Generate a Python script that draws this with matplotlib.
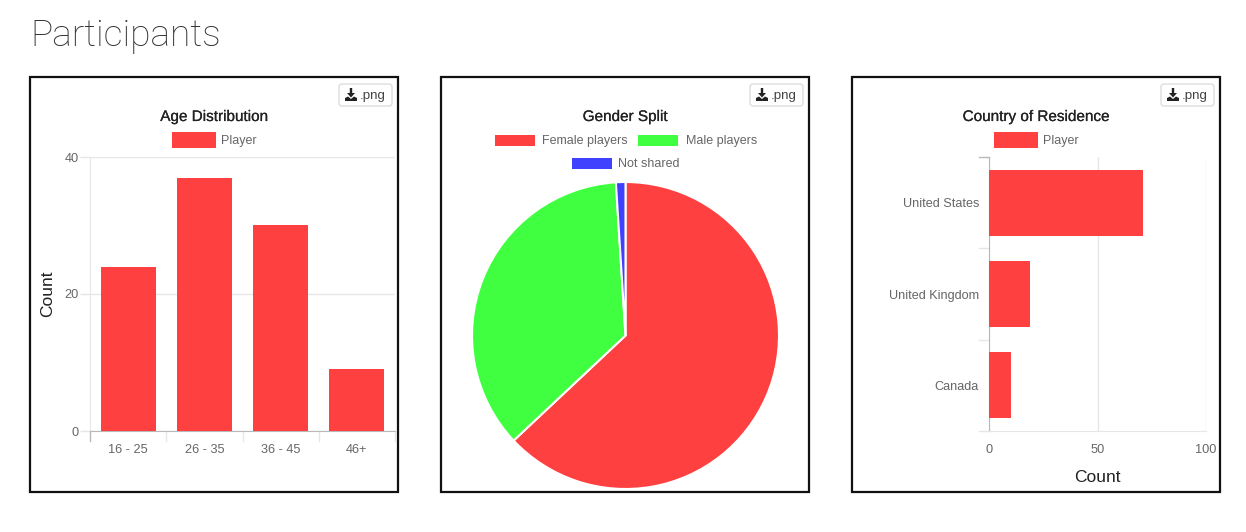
import matplotlib
matplotlib.use("Agg")
import matplotlib.pyplot as plt
import matplotlib.patheffects as pe
from matplotlib.patches import Rectangle, FancyBboxPatch, Polygon
from matplotlib.transforms import IdentityTransform

W, H = 1246, 532
RED, GREEN, BLUE = "#ff4040", "#40ff40", "#4040ff"
GRID, AXISC, TXT, DARK = "#e6e6e6", "#b8b8b8", "#666666", "#222222"
FONT = "Liberation Sans"

page_title = "Participants"
age_labels = ["16 - 25", "26 - 35", "36 - 45", "46+"]
age_counts = [24, 37, 30, 9]
age_ticks = [0, 20, 40]
gender_labels = ["Female players", "Male players", "Not shared"]
gender_counts = [63, 36, 1]
gender_colors = [RED, GREEN, BLUE]
country_labels = ["United States", "United Kingdom", "Canada"]
country_counts = [71, 19, 10]
country_ticks = [0, 50, 100]

plt.rcParams["font.family"] = FONT
fig = plt.figure(figsize=(W / 100, H / 100), dpi=100, facecolor="white")


def fx(x):
    return x / W


def fy(y):
    return 1 - y / H


def add_axes(l, t, r, b):
    return fig.add_axes([fx(l), fy(b), (r - l) / W, (b - t) / H])


def rect(l, t, r, b, **kw):
    fig.add_artist(Rectangle((fx(l), fy(b)), (r - l) / W, (b - t) / H,
                             transform=fig.transFigure, **kw))


def text(x, y, s, **kw):
    kw.setdefault("ha", "center")
    kw.setdefault("va", "center")
    kw.setdefault("color", TXT)
    kw.setdefault("fontsize", 9)
    fig.text(fx(x), fy(y), s, **kw)


def swatch(l, r, y, color, label, gap=6.5):
    h = 7.5 if (r - l) > 42 else 5.5
    rect(l, y - h, r, y + h, facecolor=color, edgecolor="none")
    text(r + gap, y + 1, label, ha="left")


def panel(l, title):
    r = l + 368
    rect(l, 77, r, 492, facecolor="white", edgecolor="#111111", linewidth=1.6, zorder=-5)
    text(l + 184, 117, title, color=DARK, fontsize=11,
         path_effects=[pe.withStroke(linewidth=0.15, foreground=DARK)])
    # export button
    bl, bt, br, bb = l + 309, 84, l + 362, 106
    fig.add_artist(FancyBboxPatch((bl + 3, H - bb + 3), br - bl - 6, bb - bt - 6,
                                  boxstyle="round,pad=3,rounding_size=3", transform=IdentityTransform(),
                                  facecolor="white", edgecolor="#dddddd", linewidth=1))
    cx = bl + 12
    pts = [(cx - 1.2, 88), (cx + 1.2, 88), (cx + 1.2, 93), (cx + 4, 93), (cx, 97.5), (cx - 4, 93), (cx - 1.2, 93)]
    fig.add_artist(Polygon([(fx(a), fy(b)) for a, b in pts], transform=fig.transFigure,
                           facecolor="#222222", edgecolor="none"))
    pts = [(cx - 6, 98), (cx - 3, 96.5), (cx, 99), (cx + 3, 96.5), (cx + 6, 98), (cx + 6, 101), (cx - 6, 101)]
    fig.add_artist(Polygon([(fx(a), fy(b)) for a, b in pts], transform=fig.transFigure,
                           facecolor="#222222", edgecolor="none"))
    text(bl + 33.5, 95.5, ".png", color="#444444", fontsize=9.6)


text(30, 35.5, page_title, ha="left", color="#333333", fontsize=26.7, family="Roboto", fontweight="light")

# ---------- Age distribution
panel(30, "Age Distribution")
swatch(172, 216, 140, RED, "Player", gap=5)
ax = add_axes(90, 157, 395, 431)
ax.bar(range(len(age_counts)), age_counts, width=0.72, color=RED, zorder=3)
ax.set_xlim(-0.5, len(age_counts) - 0.5)
ax.set_ylim(0, 40)
ax.set_yticks(age_ticks)
ax.set_xticks(range(len(age_labels)), age_labels)
ax.yaxis.grid(True, color=GRID, linewidth=1, zorder=0)
ax.tick_params(axis="y", length=7.2, width=1, color=GRID, labelcolor=TXT, labelsize=9.2, pad=1)
ax.tick_params(axis="x", length=0, labelcolor=TXT, labelsize=9.2, pad=9.5)
for s in ["top", "right"]:
    ax.spines[s].set_visible(False)
ax.spines["left"].set_color(GRID)
ax.spines["bottom"].set_color(AXISC)
for i in range(len(age_labels) + 1):
    ax.plot([i - 0.5, i - 0.5], [0, -0.037], transform=ax.get_xaxis_transform(),
            color=GRID if i else AXISC, lw=1, clip_on=False)
ax.set_ylabel("Count", fontsize=12.5, color=DARK, labelpad=7)

# ---------- Gender split
panel(441, "Gender Split")
swatch(495, 535, 140, gender_colors[0], gender_labels[0], gap=7)
swatch(638, 678, 140, gender_colors[1], gender_labels[1], gap=8)
swatch(572, 612, 163, gender_colors[2], gender_labels[2], gap=6)
ax = add_axes(625.5 - 155, 335.5 - 155, 625.5 + 155, 335.5 + 155)
ax.pie(gender_counts, colors=gender_colors, startangle=90, counterclock=False, radius=153.5 / 155,
       wedgeprops=dict(edgecolor="white", linewidth=1.5))
ax.set_xlim(-1, 1)
ax.set_ylim(-1, 1)

# ---------- Country
panel(852, "Country of Residence")
swatch(994, 1038, 140, RED, "Player", gap=5)
ax = add_axes(989, 157, 1206, 431)
ypos = range(len(country_counts))
ax.barh(ypos, country_counts, height=0.72, color=RED, zorder=3)
ax.set_ylim(len(country_counts) - 0.5, -0.5)
ax.set_xlim(0, 100)
ax.set_xticks(country_ticks)
ax.set_yticks(list(ypos), country_labels)
ax.xaxis.grid(True, color=GRID, linewidth=1, zorder=0)
ax.tick_params(axis="x", length=0, labelcolor=TXT, labelsize=9.2, pad=9.5)
ax.tick_params(axis="y", length=0, labelcolor=TXT, labelsize=9.1, pad=7.2)
for s in ["top", "right"]:
    ax.spines[s].set_visible(False)
ax.spines["left"].set_color(AXISC)
ax.spines["bottom"].set_color(GRID)
for i in range(len(country_labels) + 1):
    ax.plot([-0.046, 0], [i - 0.5, i - 0.5], transform=ax.get_yaxis_transform(),
            color=GRID if i else AXISC, lw=1, clip_on=False)
ax.set_xlabel("Count", fontsize=12.5, color=DARK, labelpad=10)

fig.savefig("out.png", dpi=100, facecolor="white")
